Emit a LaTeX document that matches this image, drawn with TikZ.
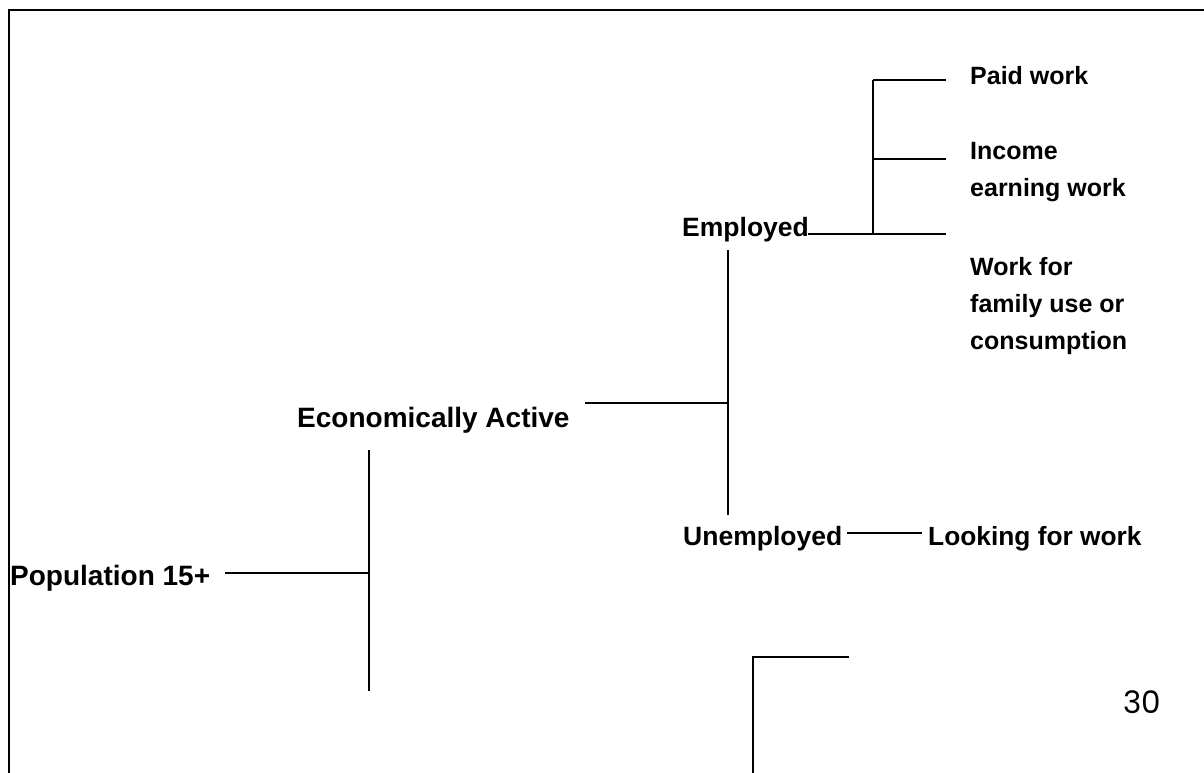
\documentclass[tikz,border=0pt]{standalone}
\usepackage{fontspec}
\setmainfont{Liberation Sans}
\newfontfamily\pagenumfont{Poppins}
\begin{document}
\begin{tikzpicture}[x=1pt,y=-1pt,
  lbl/.style={inner sep=0pt, anchor=base west, font=\bfseries\fontsize{#1}{37}\selectfont},
  multi/.style={inner sep=0pt, anchor=north west, align=left, font=\bfseries\fontsize{25}{37}\selectfont},
  conn/.style={line width=1.8pt},
  frame/.style={line width=2.6pt}]
\useasboundingbox (0,0) rectangle (1204,773);
% frame (open on right and bottom)
\coordinate (fr1) at (9,790);
\coordinate (fr2) at (9,10);
\coordinate (fr3) at (1220,10);
\draw[frame] (fr1) -- (fr2) -- (fr3);

% nodes
\node[lbl=28] (pop) at (10,585) {Population 15+};
\node[lbl=28] (ea) at (297,427) {Economically Active};
\node[lbl=26.5] (emp) at (682,236) {Employed};
\node[lbl=26.5] (unemp) at (683,545) {Unemployed};
\node[lbl=25] (paid) at (970,85) {Paid work};
\node[multi] (inc) at (970,142) {Income\\earning work};
\node[multi] (fam) at (970,257) {Work for\\family use or\\consumption};
\node[lbl=26.3] (look) at (928,545) {Looking for work};
\node[inner sep=0pt, anchor=base west, font=\pagenumfont\fontsize{31}{36}\selectfont] (pg) at (1123,713) {30};

% junction coordinates
\coordinate (popL) at (225,573);
\coordinate (popJ) at (369,573);
\coordinate (popT) at (369,450);
\coordinate (popB) at (369,691);
\coordinate (eaL) at (585,403);
\coordinate (eaJ) at (728,403);
\coordinate (eaT) at (728,250);
\coordinate (eaB) at (728,515);
\coordinate (empL) at (808,234);
\coordinate (empJ) at (873,234);
\coordinate (empR) at (946,234);
\coordinate (empT) at (873,80);
\coordinate (paidR) at (946,80);
\coordinate (incJ) at (873,159);
\coordinate (incR) at (946,159);
\coordinate (unL) at (847,533);
\coordinate (unR) at (922,533);
\coordinate (brR) at (849,657);
\coordinate (brC) at (753,657);
\coordinate (brB) at (753,790);

% connectors
\draw[conn] (popL) -- (popJ);
\draw[conn] (popT) -- (popB);
\draw[conn] (eaL) -- (eaJ);
\draw[conn] (eaT) -- (eaB);
\draw[conn] (empL) -- (empR);
\draw[conn] (empT) -- (empJ);
\draw[conn] (empT) -- (paidR);
\draw[conn] (incJ) -- (incR);
\draw[conn] (unL) -- (unR);
\draw[conn] (brR) -- (brC) -- (brB);
\end{tikzpicture}
\end{document}
